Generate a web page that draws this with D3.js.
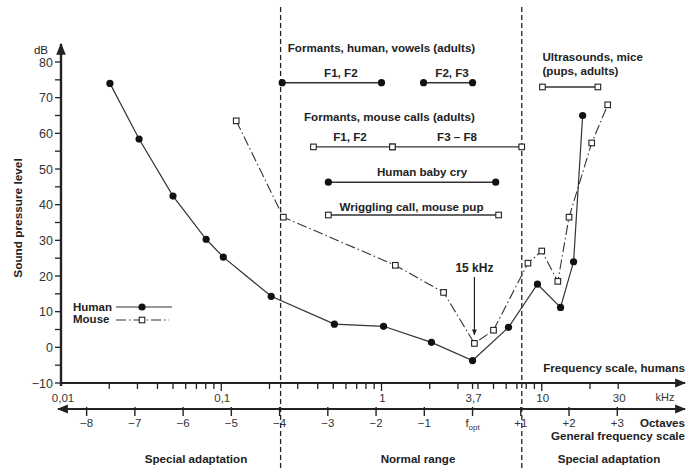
<html lang="en">
<head>
  <meta charset="utf-8" />
  <script src="https://d3js.org/d3.v7.min.js"></script>
  <style>
    body { margin: 0; background: #fff; }
    text { font-family: "Liberation Sans", Arial, sans-serif; fill: #222; }
    .b { font-weight: bold; }
  </style>
</head>
<body>
<script>
// data (kHz, dB)
const humanFreq = [0.0202, 0.0307, 0.05, 0.0805, 0.103, 0.205, 0.508, 1.03, 2.05, 3.7, 6.2, 9.4, 13.1, 15.8, 18.0];
const humanDb   = [74, 58.4, 42.4, 30.3, 25.3, 14.3, 6.5, 5.9, 1.4, -3.7, 5.6, 17.7, 11.2, 24, 65];
const mouseFreq = [0.124, 0.244, 1.22, 2.44, 3.8, 5.0, 8.2, 10.0, 12.6, 14.8, 20.5, 25.8];
const mouseDb   = [63.5, 36.5, 23, 15.4, 1.1, 4.8, 23.6, 27, 18.5, 36.5, 57.3, 68];

// frequency ranges (from kHz, to kHz, dB level, marker)
const ranges = [
  { label: "F1, F2", from: 0.24, to: 1.0, db: 74.2, mark: "dot" },
  { label: "F2, F3", from: 1.83, to: 3.7, db: 74.2, mark: "dot" },
  { label: "F1, F2", from: 0.376, to: 1.17, db: 56.2, mark: "sq" },
  { label: "F3 \u2013 F8", from: 1.17, to: 7.5, db: 56.2, mark: "sq" },
  { label: "Human baby cry", from: 0.466, to: 5.16, db: 46.3, mark: "dot" },
  { label: "Wriggling call, mouse pup", from: 0.466, to: 5.38, db: 37.1, mark: "sq" },
  { label: "", from: 10.1, to: 22.4, db: 73, mark: "sq" }
];
// small nudges of the range labels off the range centre (px)
const labelDx = [9, 4, -3, 0, 10, -2, 0];

const yTicks = [-10, 0, 10, 20, 30, 40, 50, 60, 70, 80];
const freqLabels = [[0.01, "0,01"], [0.1, "0,1"], [1, "1"], [3.7, "3,7"], [10, "10"], [30, "30"]];
const octaves = [-8, -7, -6, -5, -4, -3, -2, -1, 0, 1, 2, 3];
const fOpt = 3.7;

const W = 687, H = 468;
const svg = d3.select("body").append("svg").attr("width", W).attr("height", H);

const x = d3.scaleLog().domain([0.01, 100]).range([61, 702]);
const y = d3.scaleLinear().domain([-10, 80]).range([383, 62]);
const xo = n => x(fOpt * Math.pow(2, n));

const ink = "#222";
const fs = "11.6px";

svg.append("defs").append("marker")
  .attr("id", "arr").attr("viewBox", "0 0 10 10").attr("refX", 9).attr("refY", 5)
  .attr("markerWidth", 5).attr("markerHeight", 5).attr("orient", "auto-start-reverse")
  .append("path").attr("d", "M0,1 L10,5 L0,9 Z").attr("fill", ink);

// dashed region boundaries
[-4, 1].forEach(n => {
  svg.append("line").attr("x1", xo(n) + 1).attr("x2", xo(n) + 1).attr("y1", 7).attr("y2", H)
    .attr("stroke", ink).attr("stroke-width", 1.3).attr("stroke-dasharray", "5,3");
});

// y axis
svg.append("line").attr("x1", 61).attr("x2", 61).attr("y1", 386).attr("y2", 44)
  .attr("stroke", ink).attr("stroke-width", 2.4).attr("marker-end", "url(#arr)");
d3.range(-10, 81, 5).forEach(v => {
  svg.append("line").attr("x1", 55).attr("x2", 61).attr("y1", y(v)).attr("y2", y(v))
    .attr("stroke", ink).attr("stroke-width", 1.3);
});
svg.selectAll(".ytl").data(yTicks).join("text")
  .attr("x", 53).attr("y", d => y(d) + 4.5).attr("text-anchor", "end")
  .style("font-size", "12.5px").style("fill", "#333")
  .text(d => d < 0 ? "\u2212" + Math.abs(d) : d);
svg.append("text").attr("x", 41).attr("y", 54).attr("text-anchor", "middle")
  .style("font-size", "11.5px").text("dB");
svg.append("text").attr("class", "b")
  .attr("transform", "translate(22,218) rotate(-90)").attr("text-anchor", "middle")
  .style("font-size", "11.8px").text("Sound pressure level");

// frequency axis (humans)
svg.append("line").attr("x1", 61).attr("x2", 685).attr("y1", y(-10)).attr("y2", y(-10))
  .attr("stroke", ink).attr("stroke-width", 2.2).attr("marker-end", "url(#arr)");
const minor = [];
[0.01, 0.1, 1, 10].forEach(d => { for (let k = 1; k <= 9; k++) { if (d * k <= 30 && d * k > 0.01) minor.push(d * k); } });
minor.push(fOpt);
svg.selectAll(".fx").data(minor).join("line")
  .attr("x1", d => x(d)).attr("x2", d => x(d))
  .attr("y1", y(-10)).attr("y2", d => [0.1, 1, 10].includes(d) ? y(-10) + 8 : y(-10) + 6)
  .attr("stroke", ink).attr("stroke-width", 1.3);
svg.selectAll(".fxl").data(freqLabels).join("text")
  .attr("x", d => x(d[0]) + (d[0] === 0.01 ? 2 : 1)).attr("y", 402).attr("text-anchor", "middle")
  .style("font-size", "11.5px").style("fill", "#333").text(d => d[1]);
svg.append("text").attr("x", 665).attr("y", 401).attr("text-anchor", "middle")
  .style("font-size", "11px").style("fill", "#333").text("kHz");
svg.append("text").attr("class", "b").attr("x", 685).attr("y", 372).attr("text-anchor", "end")
  .style("font-size", fs).text("Frequency scale, humans");

// octave axis (general frequency scale)
const yo = 409;
svg.append("line").attr("x1", 58).attr("x2", 685).attr("y1", yo).attr("y2", yo)
  .attr("stroke", ink).attr("stroke-width", 2.2)
  .attr("marker-start", "url(#arr)").attr("marker-end", "url(#arr)");
svg.selectAll(".ot").data(octaves).join("line")
  .attr("x1", d => xo(d)).attr("x2", d => xo(d)).attr("y1", yo - 2).attr("y2", yo + 7)
  .attr("stroke", ink).attr("stroke-width", 1.4);
const ol = svg.selectAll(".ol").data(octaves).join("text")
  .attr("x", d => xo(d)).attr("y", 427).attr("text-anchor", "middle")
  .style("font-size", "11.5px").style("fill", "#333");
ol.each(function (d) {
  const t = d3.select(this);
  if (d === 0) {
    t.append("tspan").text("f");
    t.append("tspan").attr("dy", 3).style("font-size", "8px").text("opt");
  } else {
    t.text(d < 0 ? "\u2212" + Math.abs(d) : "+" + d);
  }
});
svg.append("text").attr("class", "b").attr("x", 685).attr("y", 427).attr("text-anchor", "end")
  .style("font-size", fs).text("Octaves");
svg.append("text").attr("class", "b").attr("x", 685).attr("y", 440).attr("text-anchor", "end")
  .style("font-size", fs).text("General frequency scale");

// region names
[["Special adaptation", 196], ["Normal range", 418], ["Special adaptation", 609]].forEach(r => {
  svg.append("text").attr("class", "b").attr("x", r[1]).attr("y", 463).attr("text-anchor", "middle")
    .style("font-size", fs).text(r[0]);
});

// curves
const human = humanFreq.map((f, i) => [f, humanDb[i]]);
const mouse = mouseFreq.map((f, i) => [f, mouseDb[i]]);
const line = d3.line().x(d => x(d[0])).y(d => y(d[1]));

svg.append("path").datum(mouse).attr("d", line).attr("fill", "none")
  .attr("stroke", "#333").attr("stroke-width", 1.1).attr("stroke-dasharray", "10,3,1.5,3");
svg.append("path").datum(human).attr("d", line).attr("fill", "none")
  .attr("stroke", "#333").attr("stroke-width", 1.2);

function square(g, cx, cy) {
  g.append("rect").attr("x", cx - 2.8).attr("y", cy - 2.8).attr("width", 5.6).attr("height", 5.6)
    .attr("fill", "#fff").attr("stroke", ink).attr("stroke-width", 1.1);
}
function dot(g, cx, cy) {
  g.append("circle").attr("cx", cx).attr("cy", cy).attr("r", 3.6).attr("fill", "#111");
}

mouse.forEach(d => square(svg, x(d[0]), y(d[1])));
human.forEach(d => dot(svg, x(d[0]), y(d[1])));

// ranges
ranges.forEach((r, i) => {
  svg.append("line").attr("x1", x(r.from)).attr("x2", x(r.to)).attr("y1", y(r.db)).attr("y2", y(r.db))
    .attr("stroke", "#333").attr("stroke-width", 1.4);
  [r.from, r.to].forEach(f => (r.mark === "dot" ? dot : square)(svg, x(f), y(r.db)));
  if (r.label) {
    const cx = (x(r.from) + x(r.to)) / 2;
    svg.append("text").attr("class", "b").attr("x", cx + labelDx[i])
      .attr("y", y(r.db) - (r.label.startsWith("Wriggling") ? 4 : 6)).attr("text-anchor", "middle")
      .style("font-size", fs).text(r.label);
  }
});

// group titles
svg.append("text").attr("class", "b").attr("x", x(1)).attr("y", 52).attr("text-anchor", "middle")
  .style("font-size", fs).text("Formants, human, vowels (adults)");
svg.append("text").attr("class", "b").attr("x", x(1.12)).attr("y", 121).attr("text-anchor", "middle")
  .style("font-size", fs).text("Formants, mouse calls (adults)");
svg.append("text").attr("class", "b").attr("x", x(10.1)).attr("y", 61)
  .style("font-size", fs).text("Ultrasounds, mice");
svg.append("text").attr("class", "b").attr("x", x(10.1)).attr("y", 75)
  .style("font-size", fs).text("(pups, adults)");

// 15 kHz marker
svg.append("text").attr("class", "b").attr("x", x(3.8)).attr("y", 272).attr("text-anchor", "middle")
  .style("font-size", "12px").text("15 kHz");
svg.append("line").attr("x1", x(3.8)).attr("x2", x(3.8)).attr("y1", 277).attr("y2", y(3.5))
  .attr("stroke", ink).attr("stroke-width", 1.2).attr("marker-end", "url(#arr)");

// legend
const lg = svg.append("g");
lg.append("text").attr("class", "b").attr("x", 73).attr("y", 311).style("font-size", "11.5px").text("Human");
lg.append("line").attr("x1", 116).attr("x2", 172).attr("y1", 307).attr("y2", 307).attr("stroke", "#333").attr("stroke-width", 1.2);
dot(lg, 142, 307);
lg.append("text").attr("class", "b").attr("x", 73).attr("y", 323).style("font-size", "11.5px").text("Mouse");
lg.append("line").attr("x1", 116).attr("x2", 169).attr("y1", 320).attr("y2", 320).attr("stroke", "#333")
  .attr("stroke-width", 1.1).attr("stroke-dasharray", "10,3,1.5,3");
square(lg, 142, 320);
</script>
</body>
</html>
